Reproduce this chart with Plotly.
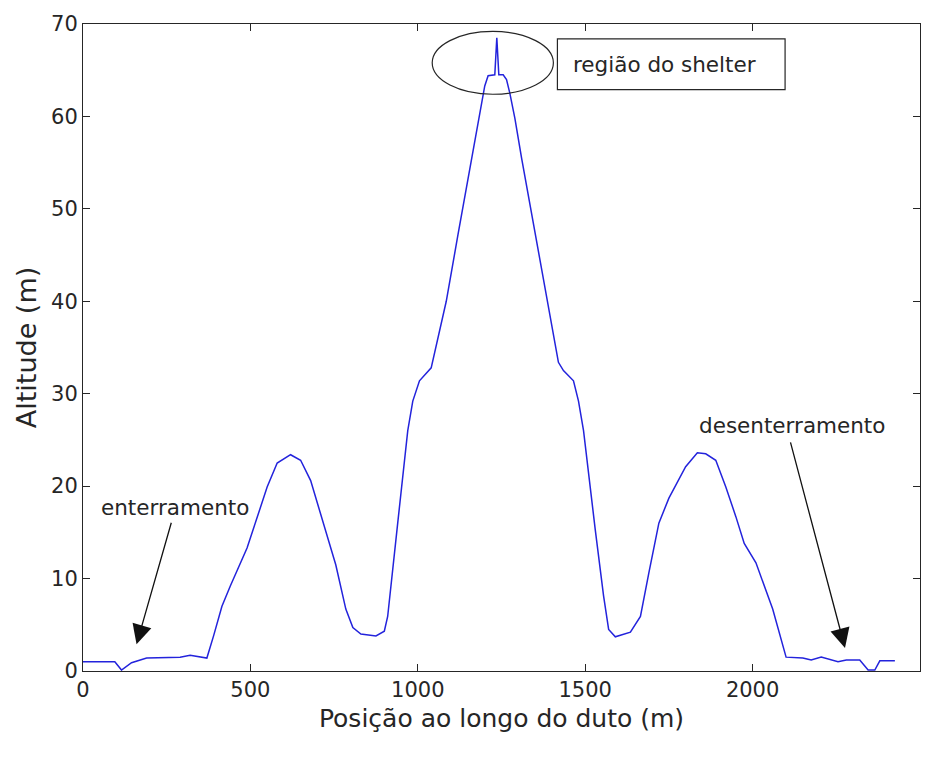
import plotly.graph_objects as go

# Pipeline elevation profile along the route
posicao_m = [0, 95, 115, 145, 190, 290, 320, 370, 390, 415, 440, 490, 550, 580, 620,
             650, 680, 716, 755, 785, 806, 830, 875, 900, 910, 940, 970, 985, 1005,
             1040, 1085, 1120, 1155, 1190, 1200, 1210, 1230, 1236, 1242, 1255, 1265,
             1275, 1290, 1310, 1350, 1388, 1420, 1435, 1465, 1480, 1495, 1530, 1555,
             1570, 1590, 1635, 1665, 1690, 1720, 1750, 1800, 1835, 1860, 1890, 1920,
             1950, 1975, 2010, 2060, 2100, 2150, 2175, 2205, 2255, 2280, 2320, 2345,
             2365, 2380, 2425]
altitude_m = [1.0, 1.0, 0.1, 0.9, 1.4, 1.5, 1.7, 1.4, 3.8, 7.0, 9.2, 13.3, 19.9, 22.5, 23.4,
              22.8, 20.6, 16.3, 11.5, 6.7, 4.7, 4.0, 3.8, 4.3, 5.9, 16.0, 26.0, 29.2, 31.4,
              32.8, 40.0, 47.2, 54.3, 61.0, 63.3, 64.4, 64.5, 68.5, 64.5, 64.5, 64.0,
              62.5, 59.8, 55.5, 47.4, 40.0, 33.4, 32.5, 31.4, 29.2, 26.0, 15.3, 8.1,
              4.5, 3.7, 4.2, 5.9, 10.6, 16.0, 18.7, 22.1, 23.6, 23.5, 22.8, 19.9,
              16.7, 13.8, 11.7, 6.7, 1.5, 1.4, 1.2, 1.5, 1.0, 1.2, 1.2, 0.1,
              0.1, 1.1, 1.1]

x_ticks = [0, 500, 1000, 1500, 2000, 2500]
y_ticks = [0, 10, 20, 30, 40, 50, 60, 70]

FONT = "DejaVu Sans"
TXT = "#262626"
AX = "#262626"
NOTE_SIZE = 21.5

fig = go.Figure()
fig.add_trace(go.Scatter(x=posicao_m, y=altitude_m, mode="lines",
                         line=dict(color="#2323dc", width=1.5),
                         showlegend=False, hoverinfo="skip"))

axis_common = dict(showgrid=False, zeroline=False, showline=True, linecolor=AX,
                   linewidth=1, mirror="ticks", ticks="inside", ticklen=7,
                   tickcolor=AX, tickfont=dict(family=FONT, size=21, color=TXT))

fig.update_xaxes(range=[0, 2500], tickvals=x_ticks, ticktext=[str(v) for v in x_ticks],
                 title=dict(text="Posição ao longo do duto (m)",
                            font=dict(family=FONT, size=25, color=TXT), standoff=8),
                 **axis_common)
fig.update_yaxes(range=[0, 70], tickvals=y_ticks, ticktext=[str(v) for v in y_ticks],
                 title=dict(text="Altitude (m)",
                            font=dict(family=FONT, size=27, color=TXT), standoff=6),
                 **axis_common)

# Shelter region highlight
fig.add_shape(type="circle", xref="x", yref="y", x0=1043, x1=1405, y0=62.4, y1=69.2,
              line=dict(color="#262626", width=1.2))
fig.add_shape(type="rect", xref="x", yref="y", x0=1417, x1=2097, y0=62.9, y1=68.4,
              line=dict(color="#262626", width=1.2), fillcolor="white")
fig.add_annotation(x=1738, y=65.65, xref="x", yref="y", text="região do shelter",
                   showarrow=False, font=dict(family=FONT, size=NOTE_SIZE, color=TXT))

# Burial / unburial markers
fig.add_annotation(x=160, y=2.9, ax=265, ay=16.2, xref="x", yref="y", axref="x", ayref="y",
                   text="", showarrow=True, arrowhead=2, arrowsize=3, arrowwidth=1.3,
                   arrowcolor="#111111")
fig.add_annotation(x=275, y=17.7, xref="x", yref="y", text="enterramento",
                   showarrow=False, font=dict(family=FONT, size=NOTE_SIZE, color=TXT))
fig.add_annotation(x=2276, y=2.5, ax=2112, ay=24.9, xref="x", yref="y", axref="x", ayref="y",
                   text="", showarrow=True, arrowhead=2, arrowsize=3, arrowwidth=1.3,
                   arrowcolor="#111111")
fig.add_annotation(x=2118, y=26.6, xref="x", yref="y", text="desenterramento",
                   showarrow=False, font=dict(family=FONT, size=NOTE_SIZE, color=TXT))

fig.update_layout(width=946, height=758, paper_bgcolor="white", plot_bgcolor="white",
                  margin=dict(l=83, r=26, t=20, b=87))

fig.write_html("out.html")
